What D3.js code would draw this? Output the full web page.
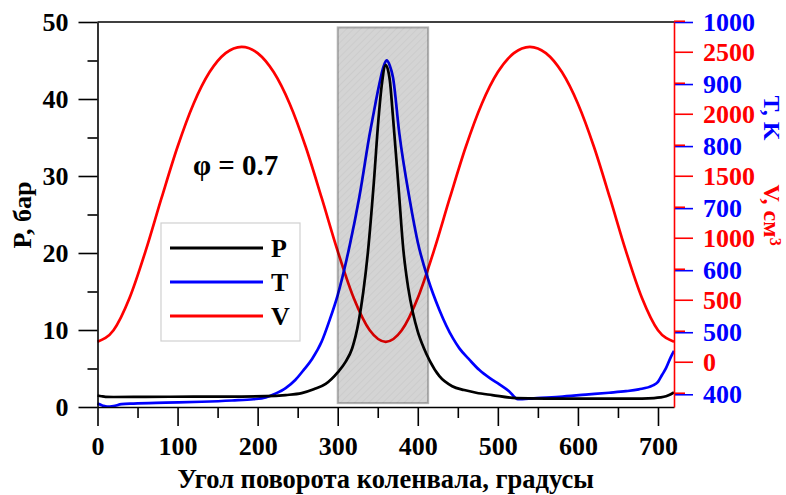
<!DOCTYPE html>
<html>
<head>
<meta charset="utf-8">
<script src="https://cdn.jsdelivr.net/npm/d3@7"></script>
<style>
  body { margin: 0; background: #fff; }
  svg { display: block; }
  text { font-family: "Liberation Serif", "Times New Roman", serif; font-weight: bold; }
</style>
</head>
<body>
<svg id="chart" width="786" height="495"></svg>
<script>
// Crank angle grid for cylinder volume (degrees)
const angleV = [0,20,40,60,80,100,120,140,160,180,200,220,240,260,280,300,320,340,360,
                380,400,420,440,460,480,500,520,540,560,580,600,620,640,660,680,700,720];
// Cylinder volume, cm^3
const volume = [161,254,514,892,1321,1734,2081,2336,2489,2540,2489,2336,2081,1734,1321,892,514,254,161,
                254,514,892,1321,1734,2081,2336,2489,2540,2489,2336,2081,1734,1321,892,514,254,161];

// In-cylinder pressure, bar
const angleP = [0,5,10,20,60,120,180,210,235,255,270,285,300,310,318,326,332,338,345,351,355,360,
                365,369,376,382,388,394,400,407,415,427,443,458,473,493,523,560,620,680,695,703,710,716,720];
const pressure = [1.5,1.4,1.32,1.3,1.32,1.34,1.36,1.4,1.55,1.8,2.3,3.0,4.5,5.9,7.6,11.0,15.0,20.4,29.0,37.5,41.8,44.4,
                  42.5,37.7,28.5,20.4,15.5,12.2,9.8,7.8,6.0,4.0,2.7,2.2,1.85,1.55,1.15,1.1,1.08,1.1,1.16,1.25,1.4,1.65,1.9];

// In-cylinder gas temperature, K
const angleT = [0,6,12,20,30,45,85,130,168,195,210,222,235,247,258,268,280,290,300,315,327,340,347,352,357,361,
                365,369,377,390,400,413,427,444,452,465,477,490,502,514,525,545,577,610,639,660,676,693,700,705,710,716,720];
const temperature = [385,382,380,381,384,385,386.5,388,390,392,395,401,410,423,440,457,485,520,560,640,718,820,868,900,927,938,
                     930,911,820,713,645,585,536,490,474,455,439,426,416,405,392,393.5,396,399.5,402.5,405,408,414,420,431,442,460,470];

// Tick values
const xTicks = [0,100,200,300,400,500,600,700];
const xMinorTicks = [50,150,250,350,450,550,650];
const pTicks = [0,10,20,30,40,50];
const pMinorTicks = [5,15,25,35,45];
const tTicks = [400,500,600,700,800,900,1000];
const vTicks = [0,500,1000,1500,2000,2500];
const vMinorTicks = [-250,250,750,1250,1750,2250,2750];

// Shaded combustion window: crank angle span and pressure span
const bandAngle = [300, 413];
const bandPressure = [0.5, 49.3];

const legendLabels = ["P", "T", "V"];
const seriesColors = ["#000000", "#0000ff", "#ff0000"];
const phiLabel = "φ = 0.7";

const svg = d3.select("#chart");

const x = d3.scaleLinear([0, 720], [97.5, 674]);
const yP = d3.scaleLinear([0, 50], [407, 22]);
const yT = d3.scaleLinear([379.5, 1000], [407, 22]);
const yV = d3.scaleLinear([-365, 2740], [407, 22]);

// Hatch pattern for the shaded band
const defs = svg.append("defs");
const pat = defs.append("pattern")
  .attr("id", "hatch").attr("patternUnits", "userSpaceOnUse")
  .attr("width", 5).attr("height", 5)
  .attr("patternTransform", "rotate(45)");
pat.append("rect").attr("width", 5).attr("height", 5).attr("fill", "rgba(0,0,0,0.17)");
pat.append("line").attr("x1", 0).attr("y1", 0).attr("x2", 0).attr("y2", 5)
  .attr("stroke", "rgba(0,0,0,0.05)").attr("stroke-width", 1.5);

// Curves
function curve(xs, ys, yScale, color) {
  const pts = xs.map((a, i) => [a, ys[i]]);
  svg.append("path")
    .datum(pts)
    .attr("fill", "none")
    .attr("stroke", color)
    .attr("stroke-width", 2.7)
    .attr("stroke-linejoin", "round")
    .attr("d", d3.line().x(d => x(d[0])).y(d => yScale(d[1])).curve(d3.curveMonotoneX));
}
curve(angleV, volume, yV, seriesColors[2]);
curve(angleT, temperature, yT, seriesColors[1]);
curve(angleP, pressure, yP, seriesColors[0]);

// Shaded band over the curves
svg.append("rect")
  .attr("x", x(bandAngle[0]))
  .attr("y", yP(bandPressure[1]))
  .attr("width", x(bandAngle[1]) - x(bandAngle[0]))
  .attr("height", yP(bandPressure[0]) - yP(bandPressure[1]))
  .attr("fill", "url(#hatch)")
  .attr("stroke", "rgba(0,0,0,0.28)")
  .attr("stroke-width", 2);

// Frame top line
svg.append("line")
  .attr("x1", x(0)).attr("x2", x(720)).attr("y1", yP(50)).attr("y2", yP(50))
  .attr("stroke", "#000").attr("stroke-width", 1.6);

function styleAxis(g, color, fontSize) {
  g.selectAll("path.domain").attr("stroke", color).attr("stroke-width", 1.6);
  g.selectAll(".tick line").attr("stroke", color).attr("stroke-width", 1.6);
  g.selectAll(".tick text").attr("fill", color)
    .style("font-size", fontSize + "px")
    .style("font-family", '"Liberation Serif", "Times New Roman", serif')
    .style("font-weight", "bold");
}

// Bottom axis
const gxMinor = svg.append("g").attr("transform", `translate(0,${yP(0)})`)
  .call(d3.axisBottom(x).tickValues(xMinorTicks).tickSize(11).tickFormat(""));
gxMinor.select("path.domain").remove();
styleAxis(gxMinor, "#000", 26);
const gx = svg.append("g").attr("transform", `translate(0,${yP(0)})`)
  .call(d3.axisBottom(x).tickValues(xTicks).tickSize(19).tickSizeOuter(0).tickPadding(11).tickFormat(d3.format("d")));
styleAxis(gx, "#000", 26);

// Left axis
const gyMinor = svg.append("g").attr("transform", `translate(${x(0)},0)`)
  .call(d3.axisLeft(yP).tickValues(pMinorTicks).tickSize(10).tickFormat(""));
gyMinor.select("path.domain").remove();
styleAxis(gyMinor, "#000", 26);
const gy = svg.append("g").attr("transform", `translate(${x(0)},0)`)
  .call(d3.axisLeft(yP).tickValues(pTicks).tickSize(19).tickSizeOuter(0).tickPadding(10).tickFormat(d3.format("d")));
styleAxis(gy, "#000", 26);

// Right axes: temperature (blue) and volume (red) share one spine
const rx = x(720);
const gT = svg.append("g").attr("transform", `translate(${rx},0)`)
  .call(d3.axisRight(yT).tickValues(tTicks).tickSize(19).tickSizeOuter(0).tickPadding(10).tickFormat(d3.format("d")));
gT.select("path.domain").remove();
styleAxis(gT, "#0000ff", 26);
const gVMinor = svg.append("g").attr("transform", `translate(${rx},0)`)
  .call(d3.axisRight(yV).tickValues(vMinorTicks).tickSize(11).tickFormat(""));
gVMinor.select("path.domain").remove();
styleAxis(gVMinor, "#ff0000", 26);
const gV = svg.append("g").attr("transform", `translate(${rx},0)`)
  .call(d3.axisRight(yV).tickValues(vTicks).tickSize(19).tickSizeOuter(0).tickPadding(10).tickFormat(d3.format("d")));
styleAxis(gV, "#ff0000", 26);

// Axis titles
svg.append("text")
  .attr("transform", `translate(31,215) rotate(-90)`)
  .attr("text-anchor", "middle").style("font-size", "26px")
  .text("P, бар");
svg.append("text")
  .attr("transform", `translate(764,118) rotate(90)`)
  .attr("text-anchor", "middle").style("font-size", "24px").attr("fill", "#0000ff")
  .text("T, K");
const vTitle = svg.append("text")
  .attr("transform", `translate(764,215) rotate(90)`)
  .attr("text-anchor", "middle").style("font-size", "24px").attr("fill", "#ff0000");
vTitle.append("tspan").text("V, см");
vTitle.append("tspan").attr("dy", "-0.4em").style("font-size", "16px").text("3");
svg.append("text")
  .attr("x", (x(0) + x(720)) / 2).attr("y", 488)
  .attr("text-anchor", "middle").style("font-size", "26.5px")
  .text("Угол поворота коленвала, градусы");

// Equivalence ratio annotation
svg.append("text")
  .attr("x", 193).attr("y", 175)
  .style("font-size", "29px")
  .text(phiLabel);

// Legend
const lg = svg.append("g");
lg.append("rect")
  .attr("x", 161).attr("y", 223).attr("width", 139).attr("height", 118)
  .attr("fill", "#fff").attr("stroke", "#d0d0d0").attr("stroke-width", 1.2);
legendLabels.forEach((lab, i) => {
  const yy = 248 + i * 34;
  lg.append("line").attr("x1", 170).attr("x2", 263).attr("y1", yy).attr("y2", yy)
    .attr("stroke", seriesColors[i]).attr("stroke-width", 3);
  lg.append("text").attr("x", 271).attr("y", yy).attr("dy", "0.35em")
    .style("font-size", "26px").text(lab);
});
</script>
</body>
</html>
